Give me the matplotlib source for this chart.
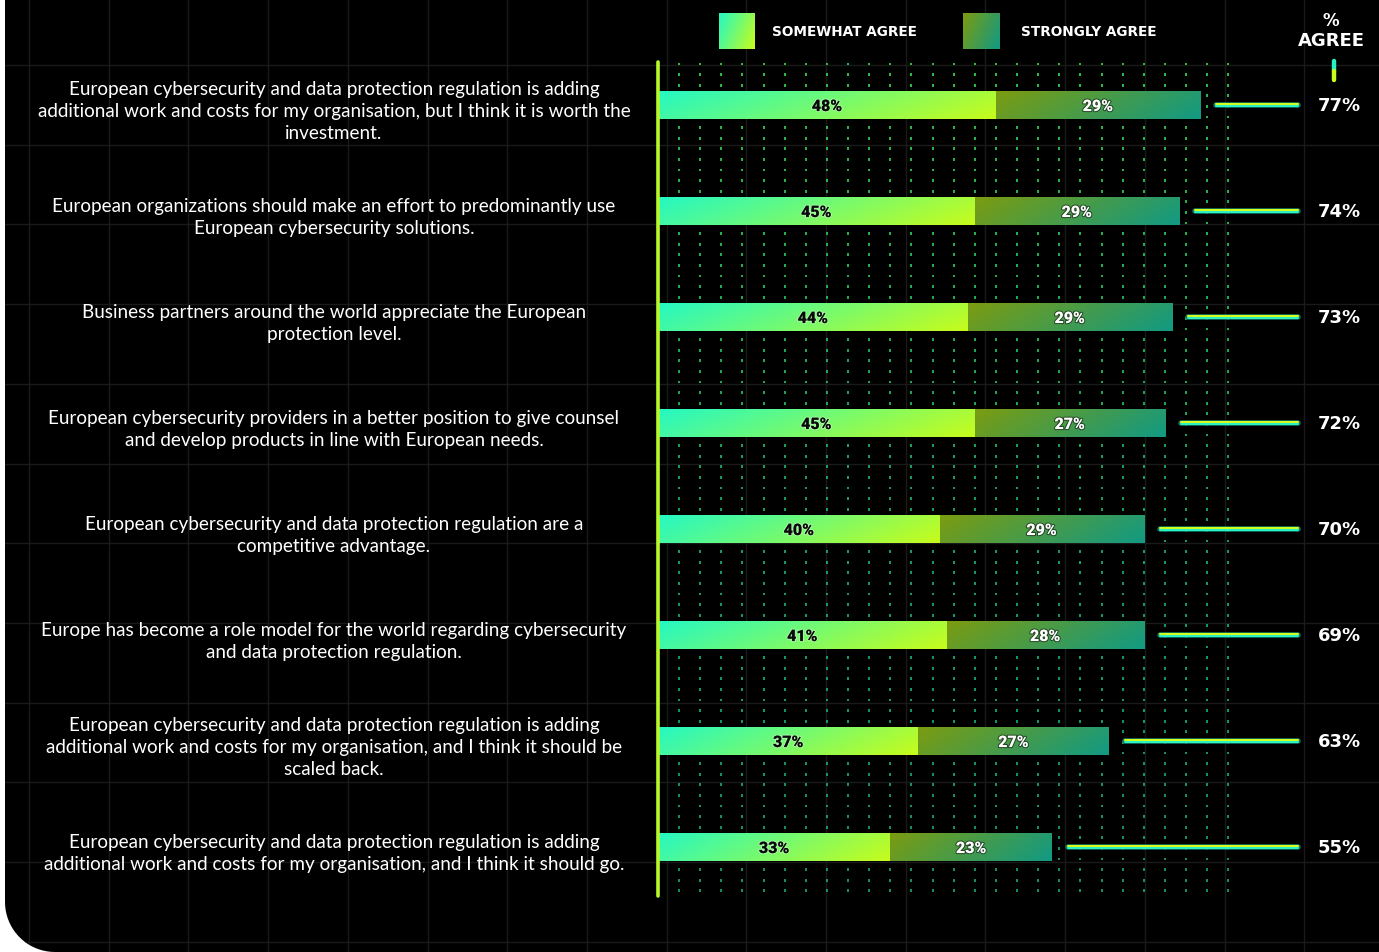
import numpy as np
import matplotlib
matplotlib.use("Agg")
import matplotlib.pyplot as plt
from matplotlib.path import Path
from matplotlib.patches import PathPatch
from matplotlib.colors import to_rgb, LinearSegmentedColormap
from matplotlib.transforms import blended_transform_factory
import matplotlib.patheffects as pe

# data
statements = [
    "European cybersecurity and data protection regulation is adding\n"
    "additional work and costs for my organisation, but I think it is worth the\n"
    "investment.",
    "European organizations should make an effort to predominantly use\n"
    "European cybersecurity solutions.",
    "Business partners around the world appreciate the European\n"
    "protection level.",
    "European cybersecurity providers in a better position to give counsel\n"
    "and develop products in line with European needs.",
    "European cybersecurity and data protection regulation are a\n"
    "competitive advantage.",
    "Europe has become a role model for the world regarding cybersecurity\n"
    "and data protection regulation.",
    "European cybersecurity and data protection regulation is adding\n"
    "additional work and costs for my organisation, and I think it should be\n"
    "scaled back.",
    "European cybersecurity and data protection regulation is adding\n"
    "additional work and costs for my organisation, and I think it should go.",
]
somewhat = [48, 45, 44, 45, 40, 41, 37, 33]
strongly = [29, 29, 29, 27, 29, 28, 27, 23]
totals = [77, 74, 73, 72, 70, 69, 63, 55]
series_names = ["SOMEWHAT AGREE", "STRONGLY AGREE"]

W, H = 1379, 953
PX_PER_PCT = 7.04
X0 = 658          # pixel where 0 % sits
ROW0, ROW_STEP = 106, 106

SOME_C = ("#24f8c4", "#c8fc1a")
STRONG_C = ("#7c9c10", "#119a84")


def grad(c0, c1, w=256, h=32, tilt=0.18):
    xs = np.linspace(0, 1, w)[None, :]
    ys = np.linspace(0, 1, h)[:, None]
    t = np.clip((1 - tilt) * xs + tilt * ys, 0, 1)
    a, b = np.array(to_rgb(c0)), np.array(to_rgb(c1))
    return a + (b - a) * t[..., None]


fig = plt.figure(figsize=(W / 100, H / 100), dpi=100, facecolor="white")

# background panel with rounded lower-left corner and faint grid
bg = fig.add_axes([0, 0, 1, 1])
bg.set_xlim(0, W)
bg.set_ylim(0, H)
bg.axis("off")
r = 50
ang = np.linspace(-np.pi / 2, -np.pi, 20)
corner = np.column_stack([5 + r + r * np.cos(ang), r + r * np.sin(ang)])
verts = [(5, H + 5), (W + 5, H + 5), (W + 5, -5), (5 + r, -5)] + [tuple(p) for p in corner] + [(5, H + 5)]
panel = PathPatch(Path(verts), facecolor="black", edgecolor="none")
bg.add_patch(panel)
for gx in np.arange(29, W, 79.7):
    ln, = bg.plot([gx, gx], [0, H], color="#1a1a1a", lw=1)
    ln.set_clip_path(panel)
for gy in np.arange(H - 66, -10, -79.7):
    ln, = bg.plot([0, W], [gy, gy], color="#1a1a1a", lw=1)
    ln.set_clip_path(panel)

# main axes: x in percent, y in rows
ax = fig.add_axes([0, 0, 1, 1])
ax.patch.set_alpha(0)
ax.axis("off")
xl = (-X0 / PX_PER_PCT, (W - X0) / PX_PER_PCT)
yl = ((H - ROW0) / ROW_STEP, -ROW0 / ROW_STEP)
rows = np.arange(len(statements))
bar_h = 28 / ROW_STEP
px = 1 / ROW_STEP  # one pixel in row units

# dotted guide columns
dot_top, dot_bot = (65 - ROW0) / ROW_STEP, (897 - ROW0) / ROW_STEP
dcols = np.arange(3, 82, 3)
dys = np.arange(dot_top, dot_bot, 0.1)
DX, DY = np.meshgrid(dcols, dys)
dot_cmap = LinearSegmentedColormap.from_list("dots", ["#3cf058", "#22cc78", "#1ab88a"])
ax.scatter(DX.ravel(), DY.ravel(), marker="|", s=4.5, linewidths=1.1,
           c=DY.ravel(), cmap=dot_cmap, zorder=1)

# axis line
ax.plot([0, 0], [dot_top - 2 * px, dot_bot], color="#b8f828", lw=2.6, zorder=5,
        solid_capstyle="round")

# bars
b1 = ax.barh(rows, somewhat, height=bar_h, color="none", zorder=3)
b2 = ax.barh(rows, strongly, left=somewhat, height=bar_h, color="none", zorder=3)
for bars, cols in ((b1, SOME_C), (b2, STRONG_C)):
    for p in bars:
        x0, y0, w, h = p.get_x(), p.get_y(), p.get_width(), p.get_height()
        im = ax.imshow(grad(*cols), extent=(x0, x0 + w, y0 + h, y0), origin="upper",
                       aspect="auto", zorder=3, interpolation="bilinear")
        im.set_clip_path(p)

for i in rows:
    ax.text(somewhat[i] / 2, i + 0.01, f"{somewhat[i]}%", ha="center", va="center",
            fontsize=11.5, fontweight="heavy", family="Roboto", color="#0a0a0a", zorder=6,
            path_effects=[pe.withStroke(linewidth=1.5, foreground="#ffffff55")])
    ax.text(somewhat[i] + strongly[i] / 2, i + 0.01, f"{strongly[i]}%", ha="center",
            va="center", fontsize=11.5, fontweight="heavy", family="Roboto", color="white",
            zorder=6, path_effects=[pe.withStroke(linewidth=1.5, foreground="#00000088")])

# connector lines and totals
line_end = (1298 - X0) / PX_PER_PCT
for i in rows:
    start = somewhat[i] + strongly[i] + 16 / PX_PER_PCT
    ax.plot([start, line_end], [i, i], color="#0e7a66", lw=4.0, zorder=4,
            solid_capstyle="round")
    ax.plot([start, line_end], [i - 0.8 * px, i - 0.8 * px], color="#d6ff1e", lw=1.5,
            zorder=4, solid_capstyle="round")
    ax.plot([start, line_end], [i + 0.8 * px, i + 0.8 * px], color="#2cf2c2", lw=1.5,
            zorder=4, solid_capstyle="round")
    ax.text((1339 - X0) / PX_PER_PCT, i, f"{totals[i]}%", ha="center", va="center",
            fontsize=13, fontweight="bold", color="white")

# statements
tr = blended_transform_factory(fig.transFigure, ax.transData)
for i, s in enumerate(statements):
    ax.text(334 / W, i + 0.055, s, transform=tr, ha="center", va="center",
            fontsize=13.6, family="Lato", color="white", linespacing=1.36)

# header for totals column
hx = (1334 - X0) / PX_PER_PCT
ax.plot([hx, hx], [(62 - ROW0) / ROW_STEP, (72 - ROW0) / ROW_STEP], color="#2cf2c2",
        lw=3.2, solid_capstyle="round")
ax.plot([hx, hx], [(72 - ROW0) / ROW_STEP, (81 - ROW0) / ROW_STEP], color="#c8fc1a",
        lw=3.2, solid_capstyle="round")
fig.text(1331 / W, 1 - 21 / H, "%", ha="center", va="center", fontsize=12,
         fontweight="bold", color="white")
fig.text(1331 / W, 1 - 41 / H, "AGREE", ha="center", va="center", fontsize=13,
         fontweight="bold", color="white")

# legend
for (lx, tx), cols, name in zip(((719, 772), (963, 1021)), (SOME_C, STRONG_C), series_names):
    lax = fig.add_axes([lx / W, 1 - 50 / H, 36 / W, 36 / H])
    lax.imshow(grad(*cols, w=64, h=64, tilt=0.3), aspect="auto", interpolation="bilinear")
    lax.axis("off")
    fig.text(tx / W, 1 - 32 / H, name, ha="left", va="center", fontsize=9.8,
             fontweight="bold", color="white")

ax.set_xlim(*xl)
ax.set_ylim(*yl)

fig.savefig("out.png", dpi=100, facecolor="white")
